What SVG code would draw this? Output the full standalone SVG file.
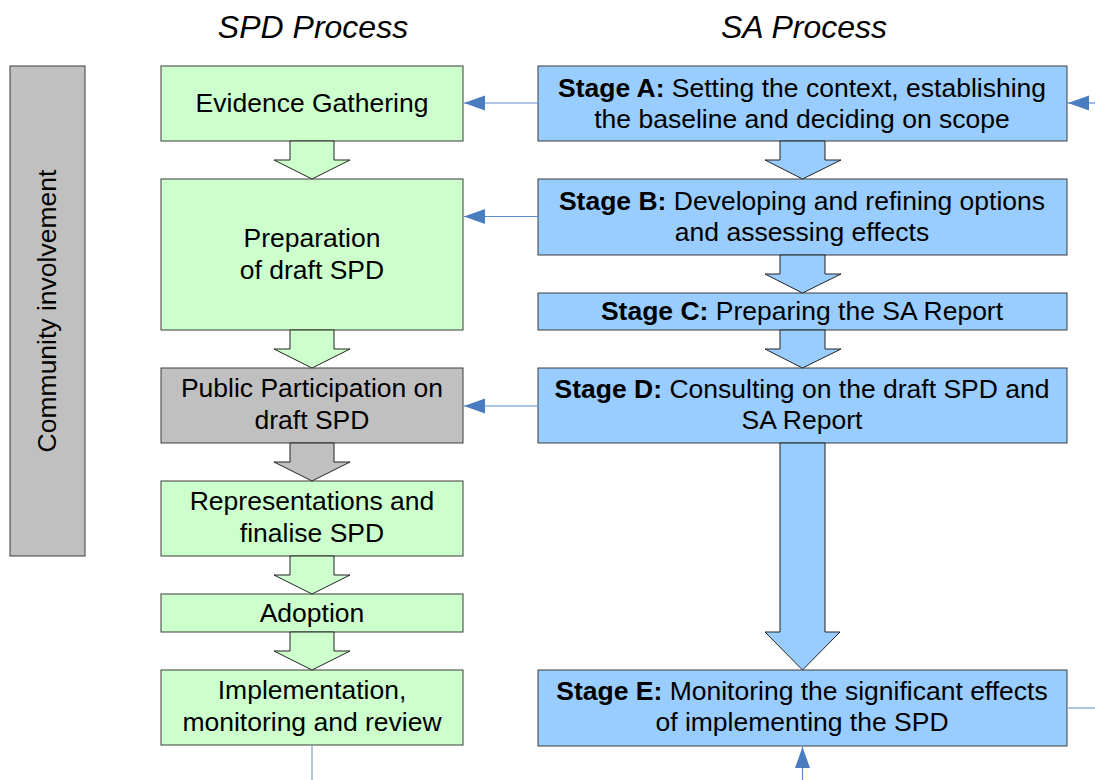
<svg xmlns="http://www.w3.org/2000/svg" width="1095" height="780" viewBox="0 0 1095 780">
<defs>
<style>
.t{font-family:"Liberation Sans",Arial,sans-serif;font-size:26.5px;fill:#000;text-anchor:middle}
.b{font-weight:bold}
.title{font-family:"Liberation Sans",Arial,sans-serif;font-size:32px;font-style:italic;text-anchor:middle}
.g{fill:#ccffcc;stroke:#3c3c3c;stroke-width:1}
.bl{fill:#99ccff;stroke:#3c3c3c;stroke-width:1}
.gr{fill:#c0c0c0;stroke:#3c3c3c;stroke-width:1}
.ba{stroke:#222;stroke-width:1}
.c{stroke:#5b8bd0;stroke-width:1.2;fill:none}
.cl{stroke:#95b3d7;stroke-width:1.5;fill:none}
</style>
<marker id="ah" markerWidth="22" markerHeight="16" refX="21" refY="7.5" orient="auto" markerUnits="userSpaceOnUse">
<path d="M0,0 L21,7.5 L0,15 Z" fill="#4a7cc0"/>
</marker>
</defs>
<rect width="1095" height="780" fill="#fff"/>
<text class="title" x="313" y="38">SPD Process</text>
<text class="title" x="804" y="38">SA Process</text>

<g id="community">
<rect class="gr" x="10" y="66" width="75" height="490"/>
<text class="t" transform="translate(56,311) rotate(-90)">Community involvement</text>
</g>

<g id="evidence"><rect class="g" x="161" y="66" width="302" height="75"/><text class="t" x="312" y="112">Evidence Gathering</text></g>
<g id="preparation"><rect class="g" x="161" y="179" width="302" height="151"/><text class="t" x="312" y="247">Preparation</text><text class="t" x="312" y="279">of draft SPD</text></g>
<g id="public"><rect class="gr" x="161" y="368" width="302" height="75"/><text class="t" x="312" y="397">Public Participation on</text><text class="t" x="312" y="429">draft SPD</text></g>
<g id="representations"><rect class="g" x="161" y="481" width="302" height="75"/><text class="t" x="312" y="510">Representations and</text><text class="t" x="312" y="542">finalise SPD</text></g>
<g id="adoption"><rect class="g" x="161" y="594" width="302" height="38"/><text class="t" x="312" y="622">Adoption</text></g>
<g id="implementation"><rect class="g" x="161" y="670" width="302" height="75"/><text class="t" x="312" y="699">Implementation,</text><text class="t" x="312" y="731">monitoring and review</text></g>

<g id="stageA"><rect class="bl" x="538" y="66" width="529" height="75"/><text class="t" x="802" y="97"><tspan class="b">Stage A:</tspan> Setting the context, establishing</text><text class="t" x="802" y="128">the baseline and deciding on scope</text></g>
<g id="stageB"><rect class="bl" x="538" y="179" width="529" height="76"/><text class="t" x="802" y="210"><tspan class="b">Stage B:</tspan> Developing and refining options</text><text class="t" x="802" y="241">and assessing effects</text></g>
<g id="stageC"><rect class="bl" x="538" y="293" width="529" height="37"/><text class="t" x="802" y="320"><tspan class="b">Stage C:</tspan> Preparing the SA Report</text></g>
<g id="stageD"><rect class="bl" x="538" y="368" width="529" height="75"/><text class="t" x="802" y="398"><tspan class="b">Stage D:</tspan> Consulting on the draft SPD and</text><text class="t" x="802" y="429">SA Report</text></g>
<g id="stageE"><rect class="bl" x="538" y="670" width="529" height="76"/><text class="t" x="802" y="700"><tspan class="b">Stage E:</tspan> Monitoring the significant effects</text><text class="t" x="802" y="731">of implementing the SPD</text></g>

<g id="connectors">
<path class="ba" fill="#ccffcc" d="M290,141 H334 V160 H350 L312,179 L274,160 H290 Z"/>
<path class="ba" fill="#ccffcc" d="M290,330 H334 V349 H350 L312,368 L274,349 H290 Z"/>
<path class="ba" fill="#c0c0c0" d="M290,443 H334 V462 H350 L312,481 L274,462 H290 Z"/>
<path class="ba" fill="#ccffcc" d="M290,556 H334 V575 H350 L312,594 L274,575 H290 Z"/>
<path class="ba" fill="#ccffcc" d="M290,632 H334 V651 H350 L312,670 L274,651 H290 Z"/>

<path class="ba" fill="#99ccff" d="M780,141 H825 V160 H841 L802.5,179 L765,160 H780 Z"/>
<path class="ba" fill="#99ccff" d="M780,255 H825 V274 H841 L802.5,293 L765,274 H780 Z"/>
<path class="ba" fill="#99ccff" d="M780,330 H825 V349 H841 L802.5,368 L765,349 H780 Z"/>
<path class="ba" fill="#99ccff" d="M780,443 H825 V632 H840 L802.5,670 L765,632 H780 Z"/>

<line class="c" x1="538" y1="103" x2="464" y2="103" marker-end="url(#ah)"/>
<line class="c" x1="538" y1="216.5" x2="464" y2="216.5" marker-end="url(#ah)"/>
<line class="c" x1="538" y1="406" x2="464" y2="406" marker-end="url(#ah)"/>
<line class="c" x1="1095" y1="103" x2="1068" y2="103" marker-end="url(#ah)"/>
<line class="cl" x1="1067" y1="708" x2="1095" y2="708"/>
<line class="cl" x1="312" y1="746" x2="312" y2="780"/>
<line class="c" x1="802.5" y1="780" x2="802.5" y2="747" marker-end="url(#ah)"/>
</g>
</svg>
